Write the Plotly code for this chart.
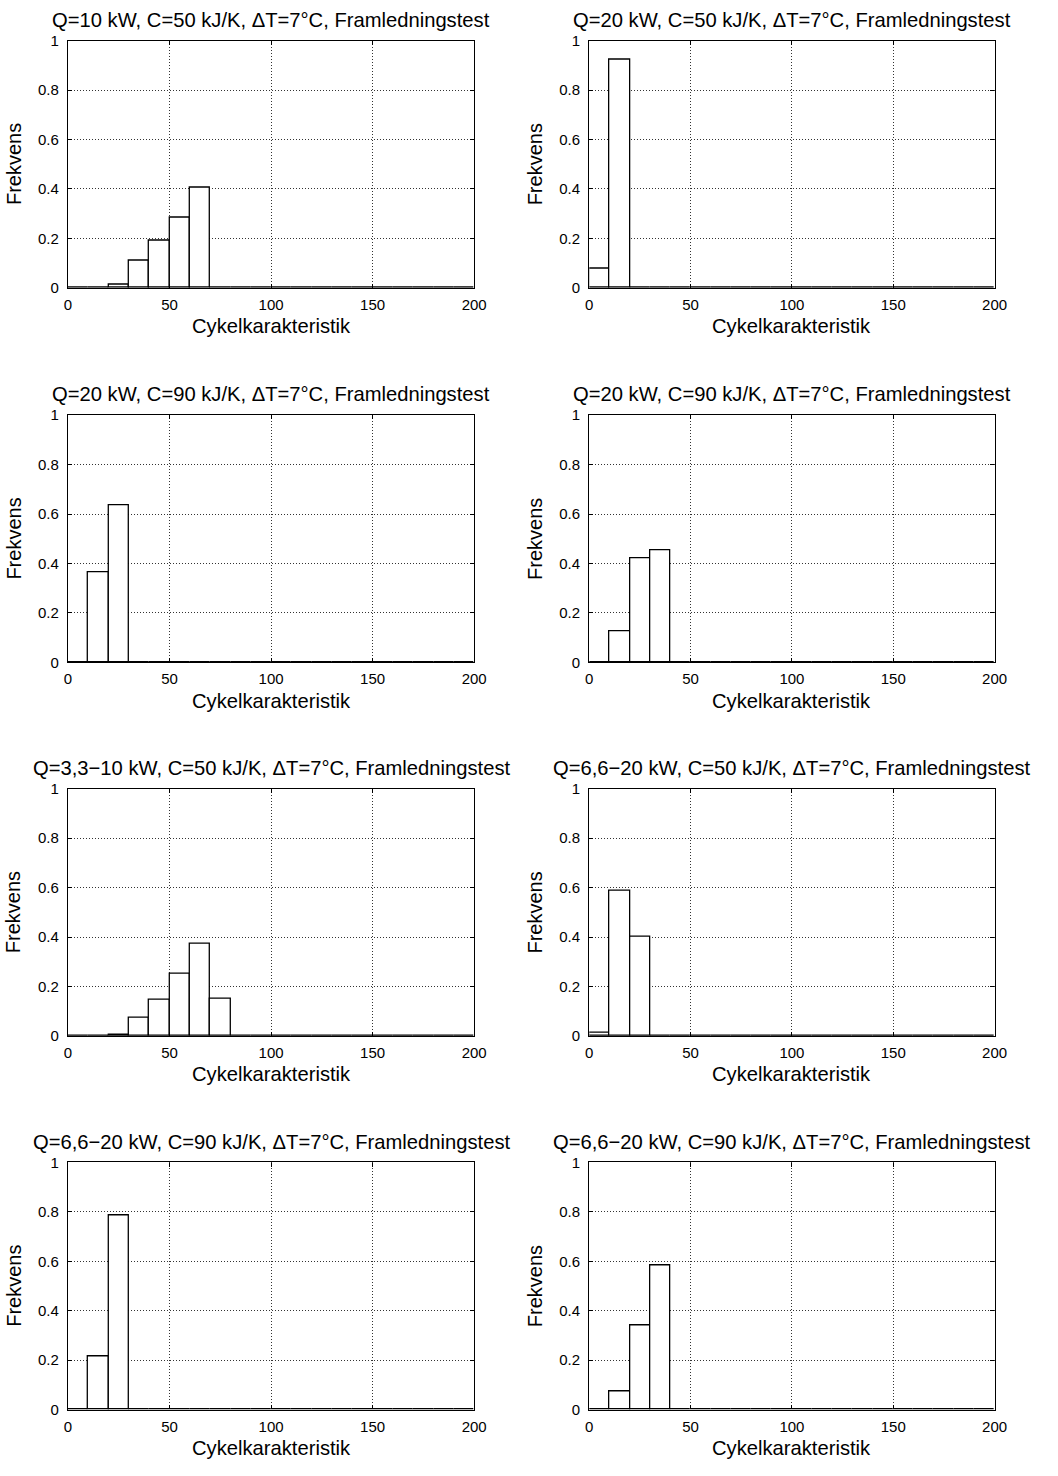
import plotly.graph_objects as go

# Histogram bin edges: 0, 10, 20, ... 200 (bin width 10)
bin_width = 10
bin_centers = [5 + 10 * i for i in range(20)]

titles = [
    "Q=10 kW, C=50 kJ/K, \u0394T=7\u00b0C, Framledningstest",
    "Q=20 kW, C=50 kJ/K, \u0394T=7\u00b0C, Framledningstest",
    "Q=20 kW, C=90 kJ/K, \u0394T=7\u00b0C, Framledningstest",
    "Q=20 kW, C=90 kJ/K, \u0394T=7\u00b0C, Framledningstest",
    "Q=3,3\u221210 kW, C=50 kJ/K, \u0394T=7\u00b0C, Framledningstest",
    "Q=6,6\u221220 kW, C=50 kJ/K, \u0394T=7\u00b0C, Framledningstest",
    "Q=6,6\u221220 kW, C=90 kJ/K, \u0394T=7\u00b0C, Framledningstest",
    "Q=6,6\u221220 kW, C=90 kJ/K, \u0394T=7\u00b0C, Framledningstest",
]

# Relative frequency per bin, starting at bin 0-10
freq_1 = [0, 0, 0.012, 0.11, 0.19, 0.284, 0.404]
freq_2 = [0.078, 0.922]
freq_3 = [0, 0.366, 0.634]
freq_4 = [0, 0.125, 0.42, 0.455]
freq_5 = [0, 0, 0.004, 0.073, 0.148, 0.251, 0.372, 0.152]
freq_6 = [0.012, 0.586, 0.402]
freq_7 = [0, 0.213, 0.787]
freq_8 = [0, 0.075, 0.34, 0.585]
frequencies = [freq_1, freq_2, freq_3, freq_4, freq_5, freq_6, freq_7, freq_8]

x_ticks = [0, 50, 100, 150, 200]
y_ticks = [0, 0.2, 0.4, 0.6, 0.8, 1]
y_tick_text = ["0", "0.2", "0.4", "0.6", "0.8", "1"]

# The page body keeps an 8px margin around the figure
PAGE_W, PAGE_H = 1058, 1476
PAD = 8
W, H = PAGE_W - 2 * PAD, PAGE_H - 2 * PAD
FONT = "Liberation Sans, Arial, Helvetica, sans-serif"

# Page-pixel frames of the plotting areas
col_px = [(73, 486), (603, 1015)]
row_px = [(40, 290), (419, 669), (797, 1047), (1175, 1425)]


def px_x(x):
    return (x - PAD) / W


def px_y(y):
    return 1 - (y - PAD) / H


fig = go.Figure()
annotations = []

for k, vals in enumerate(frequencies):
    r, c = divmod(k, 2)
    idx = k + 1
    xa = "x" if idx == 1 else f"x{idx}"
    ya = "y" if idx == 1 else f"y{idx}"
    padded = vals + [0] * (20 - len(vals))
    fig.add_trace(go.Bar(
        x=bin_centers, y=padded, width=bin_width,
        marker=dict(color="white", line=dict(color="black", width=1.3)),
        xaxis=xa, yaxis=ya, showlegend=False, hoverinfo="x+y",
    ))
    x0, x1 = col_px[c]
    y0, y1 = row_px[r]
    common = dict(
        showline=True, linecolor="black", linewidth=1.3, mirror="ticks",
        ticks="inside", ticklen=4, tickcolor="black", tickwidth=1,
        showgrid=True, gridcolor="#333", griddash="1px,2px", gridwidth=1,
        zeroline=False, tickfont=dict(family=FONT, size=15, color="black"),
    )
    fig.layout[f"xaxis{'' if idx == 1 else idx}"] = dict(
        domain=[px_x(x0), px_x(x1)], range=[0, 200], tickvals=x_ticks,
        anchor=ya, ticklabelstandoff=3, **common
    )
    fig.layout[f"yaxis{'' if idx == 1 else idx}"] = dict(
        domain=[px_y(y1), px_y(y0)], range=[0, 1], tickvals=y_ticks,
        ticktext=y_tick_text, anchor=xa, ticklabelstandoff=5, **common
    )
    xc = px_x((x0 + x1) / 2)
    annotations.append(dict(
        text=titles[k], x=xc, y=px_y(y0 - 21), xref="paper", yref="paper",
        xanchor="center", yanchor="middle", showarrow=False,
        font=dict(family=FONT, size=20.2, color="black"),
    ))
    annotations.append(dict(
        text="Cykelkarakteristik", x=xc, y=px_y(y1 + 39), xref="paper", yref="paper",
        xanchor="center", yanchor="middle", showarrow=False,
        font=dict(family=FONT, size=20.2, color="black"),
    ))
    annotations.append(dict(
        text="Frekvens", x=px_x(x0 - 55), y=px_y((y0 + y1) / 2), xref="paper", yref="paper",
        xanchor="center", yanchor="middle", showarrow=False, textangle=-90,
        font=dict(family=FONT, size=20, color="black"),
    ))

fig.update_layout(
    width=W, height=H, margin=dict(l=0, r=0, t=0, b=0),
    paper_bgcolor="white", plot_bgcolor="white",
    annotations=annotations, bargap=0,
)

fig.write_html("out.html")
